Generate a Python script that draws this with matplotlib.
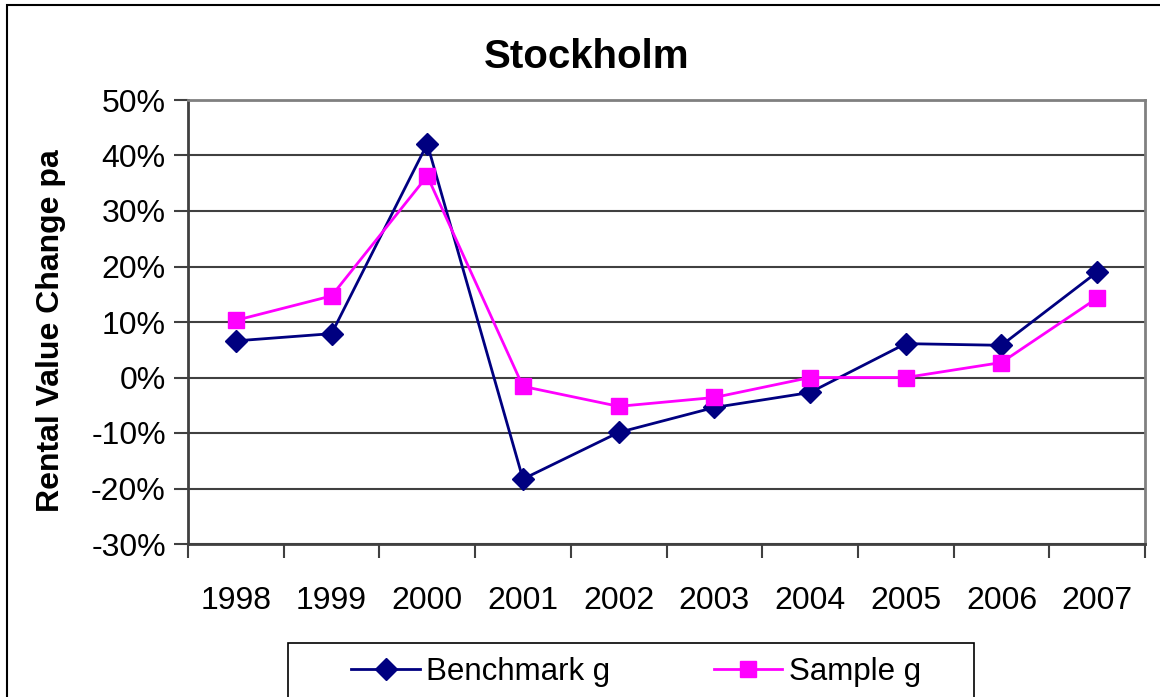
import matplotlib
matplotlib.use("Agg")
import matplotlib.pyplot as plt
from matplotlib.patches import Rectangle
from matplotlib.ticker import PercentFormatter, FixedLocator
import numpy as np

# Data
years = ["1998", "1999", "2000", "2001", "2002", "2003", "2004", "2005", "2006", "2007"]
benchmark = [6.6, 7.9, 42.1, -18.3, -9.9, -5.4, -2.7, 6.1, 5.8, 19.0]
sample = [10.3, 14.7, 36.3, -1.6, -5.2, -3.6, 0.0, 0.0, 2.7, 14.3]

plt.rcParams['font.family'] = ['Liberation Sans', 'DejaVu Sans']
plt.rcParams['axes.unicode_minus'] = False

fig = plt.figure(figsize=(11.6, 6.97), dpi=100)
ax = fig.add_axes([188 / 1160, 1 - 544 / 697, (1145 - 188) / 1160, (544 - 100) / 697])

x = np.arange(len(years))
ax.plot(x, benchmark, color='#000080', lw=2, marker='D', ms=11, label='Benchmark g')
ax.plot(x, sample, color='#FF00FF', lw=2, marker='s', ms=11, label='Sample g')

ax.set_xlim(-0.5, len(years) - 0.5)
ax.set_ylim(-30, 50)
ax.set_yticks(np.arange(-30, 51, 10))
ax.yaxis.set_major_formatter(PercentFormatter(decimals=0))
ax.set_xticks(x)
ax.set_xticklabels(years)
ax.xaxis.set_minor_locator(FixedLocator(np.arange(-0.5, len(years), 1)))
ax.tick_params(axis='x', which='major', length=0, pad=30, labelsize=23)
ax.tick_params(axis='x', which='minor', length=10, width=1.5, color='#404040')
ax.tick_params(axis='y', length=10, width=1.5, color='#404040', labelsize=23, pad=6)

ax.grid(axis='y', color='#404040', lw=1.5)
ax.set_axisbelow(True)
for side in ['top', 'right']:
    ax.spines[side].set_color('#808080')
    ax.spines[side].set_linewidth(2)
for side in ['left', 'bottom']:
    ax.spines[side].set_color('#404040')
    ax.spines[side].set_linewidth(2)

ax.set_ylabel('Rental Value Change pa', fontsize=23, fontweight='bold')
ax.yaxis.set_label_coords(-0.128, 0.48)
fig.text(587 / 1160, 1 - 57 / 697, 'Stockholm', ha='center', va='center',
         fontsize=29, fontweight='bold')

# outer chart frame and legend box, both running past the image edge
fig.add_artist(Rectangle((7 / 1160, -0.1), 1.2, 1 - 5 / 697 + 0.1, transform=fig.transFigure,
                         fill=False, ec='black', lw=1.5, clip_on=False))
fig.add_artist(Rectangle((288 / 1160, -0.1), (974 - 288) / 1160, 1 - 643 / 697 + 0.1,
                         transform=fig.transFigure, fill=False, ec='black', lw=1.2,
                         clip_on=False))
fig.legend(loc='center', bbox_to_anchor=(636 / 1160, 1 - 672 / 697), ncol=2, frameon=False,
           fontsize=22.5, handlelength=2.2, columnspacing=3.3, handletextpad=0.2)

fig.savefig('out.png', dpi=100)
